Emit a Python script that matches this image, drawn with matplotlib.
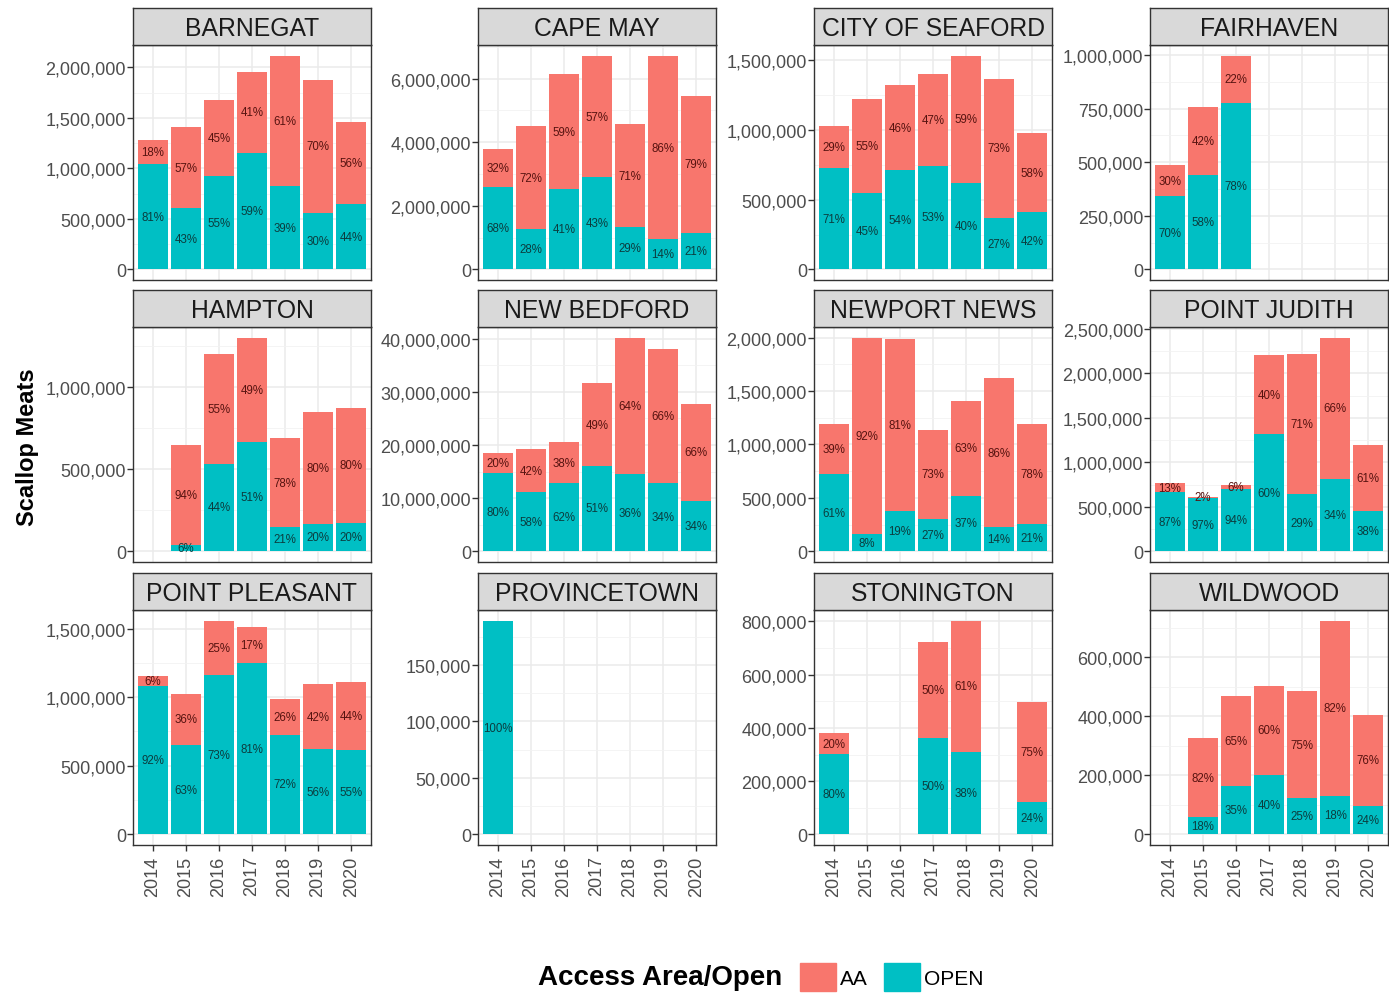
import numpy as np
import matplotlib
matplotlib.use("Agg")
import matplotlib.pyplot as plt
from matplotlib.patches import Patch
from matplotlib.ticker import FuncFormatter

plt.rcParams['font.family'] = ['Liberation Sans', 'DejaVu Sans']

# data
ports = ["BARNEGAT", "CAPE MAY", "CITY OF SEAFORD", "FAIRHAVEN",
         "HAMPTON", "NEW BEDFORD", "NEWPORT NEWS", "POINT JUDITH",
         "POINT PLEASANT", "PROVINCETOWN", "STONINGTON", "WILDWOOD"]
years = ["2014", "2015", "2016", "2017", "2018", "2019", "2020"]

# total scallop meats (lbs) per port and year, None = no landings
totals = [
    [1277000, 1410000, 1675000, 1957000, 2116000, 1874000, 1460000],
    [3800000, 4500000, 6130000, 6720000, 4570000, 6720000, 5450000],
    [1027000, 1225000, 1321000, 1406000, 1534000, 1370000, 976000],
    [486000, 758000, 997000, None, None, None, None],
    [None, 650000, 1202000, 1300000, 690000, 845000, 875000],
    [18500000, 19200000, 20600000, 31600000, 40200000, 38000000, 27800000],
    [1190000, 2000000, 1990000, 1135000, 1410000, 1620000, 1190000],
    [765000, 614000, 743000, 2200000, 2216000, 2400000, 1190000],
    [1153000, 1026000, 1557000, 1509000, 989000, 1092000, 1107000],
    [189000, None, None, None, None, None, None],
    [379000, None, None, 722000, 803000, None, 497000],
    [None, 325000, 469000, 503000, 486000, 724000, 405000],
]

# percent labels as printed on the bars
open_pct = [
    [81, 43, 55, 59, 39, 30, 44],
    [68, 28, 41, 43, 29, 14, 21],
    [71, 45, 54, 53, 40, 27, 42],
    [70, 58, 78, None, None, None, None],
    [None, 6, 44, 51, 21, 20, 20],
    [80, 58, 62, 51, 36, 34, 34],
    [61, 8, 19, 27, 37, 14, 21],
    [87, 97, 94, 60, 29, 34, 38],
    [92, 63, 73, 81, 72, 56, 55],
    [100, None, None, None, None, None, None],
    [80, None, None, 50, 38, None, 24],
    [None, 18, 35, 40, 25, 18, 24],
]
aa_pct = [
    [18, 57, 45, 41, 61, 70, 56],
    [32, 72, 59, 57, 71, 86, 79],
    [29, 55, 46, 47, 59, 73, 58],
    [30, 42, 22, None, None, None, None],
    [None, 94, 55, 49, 78, 80, 80],
    [20, 42, 38, 49, 64, 66, 66],
    [39, 92, 81, 73, 63, 86, 78],
    [13, 2, 6, 40, 71, 66, 61],
    [6, 36, 25, 17, 26, 42, 44],
    [0, None, None, None, None, None, None],
    [20, None, None, 50, 61, None, 75],
    [None, 82, 65, 60, 75, 82, 76],
]

y_breaks = [
    [0, 500000, 1000000, 1500000, 2000000],
    [0, 2000000, 4000000, 6000000],
    [0, 500000, 1000000, 1500000],
    [0, 250000, 500000, 750000, 1000000],
    [0, 500000, 1000000],
    [0, 10000000, 20000000, 30000000, 40000000],
    [0, 500000, 1000000, 1500000, 2000000],
    [0, 500000, 1000000, 1500000, 2000000, 2500000],
    [0, 500000, 1000000, 1500000],
    [0, 50000, 100000, 150000],
    [0, 200000, 400000, 600000, 800000],
    [0, 200000, 400000, 600000],
]

AA_COL = "#F8766D"
OPEN_COL = "#00BFC4"

W, H = 1389, 995
fig = plt.figure(figsize=(W / 100, H / 100), dpi=100)

col_left = [133, 478, 814, 1150]
row_top = [46, 328, 611]
pw, ph = 238, 235
strip_h = 37

x = np.arange(len(years))
for i, port in enumerate(ports):
    r, c = i // 4, i % 4
    left = col_left[c] / W
    bottom = 1 - (row_top[r] + ph) / H
    ax = fig.add_axes([left, bottom, pw / W, ph / H])

    tot = np.array([t if t is not None else np.nan for t in totals[i]], float)
    op = np.array([p if p is not None else np.nan for p in open_pct[i]], float)
    aa = np.array([p if p is not None else np.nan for p in aa_pct[i]], float)
    open_val = tot * op / (op + aa)
    aa_val = tot - open_val
    ok = ~np.isnan(tot)

    ax.bar(x[ok], open_val[ok], width=0.9, color=OPEN_COL, zorder=3)
    ax.bar(x[ok], aa_val[ok], width=0.9, bottom=open_val[ok], color=AA_COL, zorder=3)
    for k in np.where(ok)[0]:
        if op[k] > 0:
            ax.text(x[k], open_val[k] / 2, f"{int(op[k])}%", ha='center', va='center',
                    fontsize=8.3, color='#0b3d3f', zorder=4)
        if aa[k] > 0:
            ax.text(x[k], open_val[k] + aa_val[k] / 2, f"{int(aa[k])}%", ha='center',
                    va='center', fontsize=8.3, color='#571310', zorder=4)

    ymax = np.nanmax(tot)
    ax.set_ylim(-0.05 * ymax, 1.05 * ymax)
    ax.set_xlim(-0.6, len(years) - 0.4)
    br = y_breaks[i]
    ax.set_yticks(br)
    step = br[1] - br[0]
    minor = np.arange(br[0] - step / 2, 1.05 * ymax, step)
    minor = minor[(minor > -0.05 * ymax)]
    ax.set_yticks(minor, minor=True)
    ax.yaxis.set_major_formatter(FuncFormatter(lambda v, p: f"{int(v):,}"))
    ax.set_xticks(x)
    ax.grid(True, which='major', color='#ebebeb', linewidth=1.1, zorder=0)
    ax.grid(True, which='minor', axis='y', color='#f2f2f2', linewidth=0.6, zorder=0)
    ax.set_axisbelow(True)
    ax.tick_params(axis='y', which='major', labelsize=13, labelcolor='#4d4d4d',
                   color='#333333', length=4, width=1, pad=1)
    ax.tick_params(axis='y', which='minor', length=0)
    if r == 2:
        ax.set_xticklabels(years, rotation=90, fontsize=13, color='#4d4d4d')
        ax.tick_params(axis='x', color='#333333', length=4, width=1)
    else:
        ax.tick_params(axis='x', length=0, labelbottom=False)
    for s in ax.spines.values():
        s.set_color('#333333')
        s.set_linewidth(1)

    # facet strip
    sax = fig.add_axes([left, 1 - row_top[r] / H, pw / W, strip_h / H])
    sax.set_facecolor('#d9d9d9')
    sax.set_xticks([])
    sax.set_yticks([])
    for s in sax.spines.values():
        s.set_color('#333333')
        s.set_linewidth(1)
    sax.text(0.5, 0.46, port, ha='center', va='center', fontsize=17.8,
             color='#1a1a1a', transform=sax.transAxes)

fig.text(28 / W, 1 - 447 / H, "Scallop Meats", rotation=90, ha='center', va='center',
         fontsize=17, fontweight='bold')

fig.text(782 / W, 1 - 978 / H, "Access Area/Open", ha='right', va='center',
         fontsize=20, fontweight='bold')
handles = [Patch(color=AA_COL), Patch(color=OPEN_COL)]
fig.legend(handles, ["AA", "OPEN"], ncol=2, loc='center left',
           bbox_to_anchor=(781 / W, 1 - 978 / H), frameon=False, fontsize=15,
           handlelength=1.75, handleheight=1.7, handletextpad=0.2, columnspacing=0.75)

fig.savefig("out.png", dpi=100)
